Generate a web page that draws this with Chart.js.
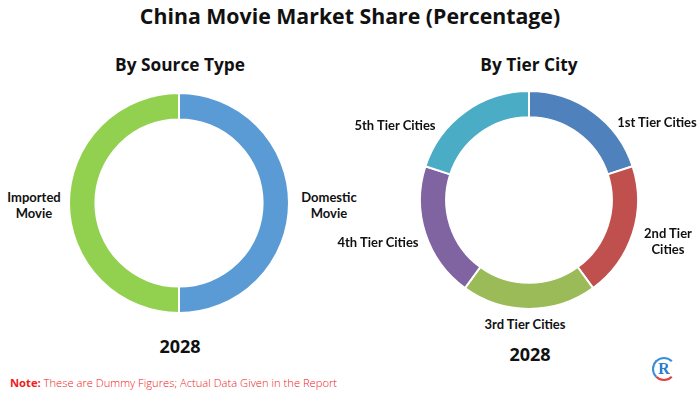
<!DOCTYPE html>
<html>
<head>
<meta charset="utf-8">
<script src="https://cdn.jsdelivr.net/npm/chart.js@4.4.1/dist/chart.umd.min.js"></script>
<style>
  body { margin: 0; background: #fff; }
  #page { position: relative; width: 700px; height: 393px; overflow: hidden; font-family: Lato, "Open Sans", sans-serif; color: #111; }
  .t { position: absolute; white-space: nowrap; font-weight: bold; font-family: "Open Sans", sans-serif; }
  .title { left: 0; width: 700px; top: 1px; text-align: center; font-size: 21.3px; }
  .sub { font-size: 17.3px; top: 53px; transform: translateX(-50%); }
  .yr { font-size: 18px; transform: translate(-50%, -50%); }
  .lbl { position: absolute; font-size: 13px; font-weight: bold; line-height: 16px; text-align: center; transform: translate(-50%, -50%); white-space: nowrap; }
  .note { position: absolute; left: 10px; top: 375px; font-family: "Open Sans", sans-serif; font-size: 11.2px; color: #f02020; font-weight: 300; }
  .note b { font-weight: bold; }
  canvas { position: absolute; }
  .logo { position: absolute; left: 652px; top: 357px; width: 20px; height: 20px; border-radius: 50%; border: 2px solid #3a8fd8; border-right-color: transparent; border-bottom-color: #e04040; font: bold 16px "Liberation Serif", serif; color: #2a7fd0; text-align: center; line-height: 20px; }
</style>
</head>
<body>
<div id="page">
  <div class="t title">China Movie Market Share (Percentage)</div>
  <div class="t sub" style="left:180px">By Source Type</div>
  <div class="t sub" style="left:529px">By Tier City</div>
  <canvas id="srcChart" width="222" height="222" style="left:68px;top:92px"></canvas>
  <canvas id="tierChart" width="220" height="220" style="left:419px;top:90px"></canvas>
  <div id="labels"></div>
  <div class="t yr" style="left:180px;top:346px">2028</div>
  <div class="t yr" style="left:530px;top:354px">2028</div>
  <div class="note"><b>Note:</b> These are Dummy Figures; Actual Data Given in the Report</div>
  <div class="logo">R</div>
</div>
<script>
// By Source Type
var sourceLabels = ["Domestic\nMovie", "Imported\nMovie"];
var sourceValues = [50, 50];
var sourceColors = ["#5B9BD5", "#92D050"];

// By Tier City
var tierLabels = ["1st Tier Cities", "2nd Tier\nCities", "3rd Tier Cities", "4th Tier Cities", "5th Tier Cities"];
var tierValues = [20, 20, 20, 20, 20];
var tierColors = ["#4F81BD", "#C0504D", "#9BBB59", "#8064A2", "#4BACC6"];

// where each label sits on the page (centre of the text block)
var sourceLabelPos = [[329, 205], [34, 205]];
var tierLabelPos = [[657, 122], [668, 241], [525, 324], [378, 242], [395, 125]];

function donut(id, values, colors) {
  return new Chart(document.getElementById(id), {
    type: 'doughnut',
    data: {
      datasets: [{
        data: values,
        backgroundColor: colors,
        borderColor: '#ffffff',
        borderWidth: 2
      }]
    },
    options: {
      responsive: false,
      animation: false,
      cutout: '76%',
      plugins: { legend: { display: false }, tooltip: { enabled: false } }
    }
  });
}

donut('srcChart', sourceValues, sourceColors);
donut('tierChart', tierValues, tierColors);

function addLabels(names, pos) {
  var box = document.getElementById('labels');
  names.forEach(function(n, i) {
    var d = document.createElement('div');
    d.className = 'lbl';
    d.style.left = pos[i][0] + 'px';
    d.style.top = pos[i][1] + 'px';
    d.innerHTML = n.replace('\n', '<br>');
    box.appendChild(d);
  });
}
addLabels(sourceLabels, sourceLabelPos);
addLabels(tierLabels, tierLabelPos);
</script>
</body>
</html>
